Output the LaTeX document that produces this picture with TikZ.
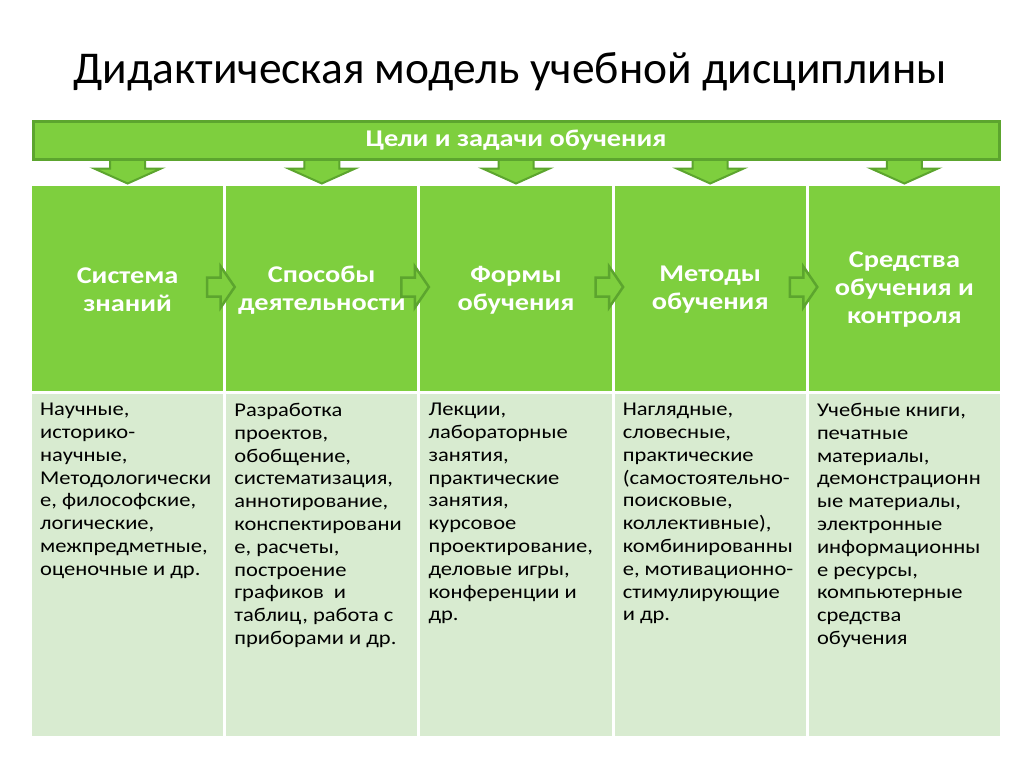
\documentclass[tikz,border=0pt]{standalone}
\usepackage{fontspec}
\setmainfont{Carlito}
\newfontfamily\widefont[FakeStretch=1.155]{Carlito}
\newfontfamily\headfont[FakeStretch=1.18]{Carlito}
\usepackage{tikz}

\definecolor{leafgreen}{RGB}{126,207,62}
\definecolor{darkleaf}{RGB}{92,165,46}
\definecolor{palegreen}{RGB}{216,235,208}

\begin{document}
\begin{tikzpicture}[
		x=1pt, y=-1pt,
		headcell/.style={rectangle, fill=leafgreen, draw=white, line width=3pt, minimum width=194.2pt, minimum height=211pt, inner sep=0pt, align=center, text=white, font=\headfont\fontsize{24}{28}\selectfont\bfseries},
		bodycell/.style={rectangle, fill=palegreen, draw=white, line width=3pt, minimum width=194.2pt, minimum height=345pt, inner sep=0pt},
		celltext/.style={anchor=north west, align=left, inner sep=0pt, font=\widefont\fontsize{19.5}{22.8}\selectfont},
		downblock/.style={fill=leafgreen, draw=darkleaf, line width=2pt, line join=miter},
		sideblock/.style={fill=leafgreen, draw=darkleaf, line width=2.5pt, line join=miter}
	]
  \useasboundingbox (0,0) rectangle (1024,768);
  \fill[white] (0,0) rectangle (1024,768);

  \node (title) at (510,72) {\fontsize{45.5}{50}\selectfont Дидактическая модель учебной дисциплины};

  % header row
  \node (h1) [headcell] at (127.6,290) {Система\\знаний};
  \node (h2) [headcell] at (321.8,290) {Способы\\деятельности};
  \node (h3) [headcell] at (516,290) {Формы\\обучения};
  \node (h4) [headcell] at (710.2,290) {Методы\\обучения};
  \node (h5) [headcell] at (904.4,290) {Средства\\обучения и\\контроля};

  % body row
  \node (b1) [bodycell] at (127.6,565) {};
  \node (b2) [bodycell] at (321.8,565) {};
  \node (b3) [bodycell] at (516,565) {};
  \node (b4) [bodycell] at (710.2,565) {};
  \node (b5) [bodycell] at (904.4,565) {};

  \node (t1) [celltext] at ([shift={(11,12)}]b1.north west) {Научные,\\историко-\\научные,\\Методологически\\е, философские,\\логические,\\межпредметные,\\оценочные и др.};
  \node (t2) [celltext] at ([shift={(11,12)}]b2.north west) {Разработка\\проектов,\\обобщение,\\систематизация,\\аннотирование,\\конспектировани\\е, расчеты,\\построение\\графиков\ \ и\\таблиц, работа с\\приборами и др.};
  \node (t3) [celltext] at ([shift={(11,12)}]b3.north west) {Лекции,\\лабораторные\\занятия,\\практические\\занятия,\\курсовое\\проектирование,\\деловые игры,\\конференции и\\др.};
  \node (t4) [celltext] at ([shift={(11,12)}]b4.north west) {Наглядные,\\словесные,\\практические\\(самостоятельно-\\поисковые,\\коллективные),\\комбинированны\\е, мотивационно-\\стимулирующие\\и др.};
  \node (t5) [celltext] at ([shift={(11,12)}]b5.north west) {Учебные книги,\\печатные\\материалы,\\демонстрационн\\ые материалы,\\электронные\\информационны\\е ресурсы,\\компьютерные\\средства\\обучения};

  % arrows from the goals banner
  \draw[downblock] ([shift={(-17.5,-27)}]h1.north) -- ++(35,0) -- ++(0,12.5) -- ++(16,0) -- ++(-33.5,15) -- ++(-33.5,-15) -- ++(16,0) -- cycle;
  \draw[downblock] ([shift={(-17.5,-27)}]h2.north) -- ++(35,0) -- ++(0,12.5) -- ++(16,0) -- ++(-33.5,15) -- ++(-33.5,-15) -- ++(16,0) -- cycle;
  \draw[downblock] ([shift={(-17.5,-27)}]h3.north) -- ++(35,0) -- ++(0,12.5) -- ++(16,0) -- ++(-33.5,15) -- ++(-33.5,-15) -- ++(16,0) -- cycle;
  \draw[downblock] ([shift={(-17.5,-27)}]h4.north) -- ++(35,0) -- ++(0,12.5) -- ++(16,0) -- ++(-33.5,15) -- ++(-33.5,-15) -- ++(16,0) -- cycle;
  \draw[downblock] ([shift={(-17.5,-27)}]h5.north) -- ++(35,0) -- ++(0,12.5) -- ++(16,0) -- ++(-33.5,15) -- ++(-33.5,-15) -- ++(16,0) -- cycle;

  \node (goals) [rectangle, fill=leafgreen, draw=darkleaf, line width=3pt, minimum width=966pt, minimum height=38pt, text=white, font=\headfont\fontsize{24}{26}\selectfont\bfseries] at (516,140) {\raisebox{-3pt}{Цели и задачи обучения}};

  % arrows between the columns
  \draw[sideblock] ([shift={(-19,-12.5)}]h1.east) -- ++(13.5,0) -- ++(0,-11) -- ++(14,20.5) -- ++(-14,20.5) -- ++(0,-11) -- ++(-13.5,0) -- cycle;
  \draw[sideblock] ([shift={(-19,-12.5)}]h2.east) -- ++(13.5,0) -- ++(0,-11) -- ++(14,20.5) -- ++(-14,20.5) -- ++(0,-11) -- ++(-13.5,0) -- cycle;
  \draw[sideblock] ([shift={(-19,-12.5)}]h3.east) -- ++(13.5,0) -- ++(0,-11) -- ++(14,20.5) -- ++(-14,20.5) -- ++(0,-11) -- ++(-13.5,0) -- cycle;
  \draw[sideblock] ([shift={(-19,-12.5)}]h4.east) -- ++(13.5,0) -- ++(0,-11) -- ++(14,20.5) -- ++(-14,20.5) -- ++(0,-11) -- ++(-13.5,0) -- cycle;
\end{tikzpicture}
\end{document}
